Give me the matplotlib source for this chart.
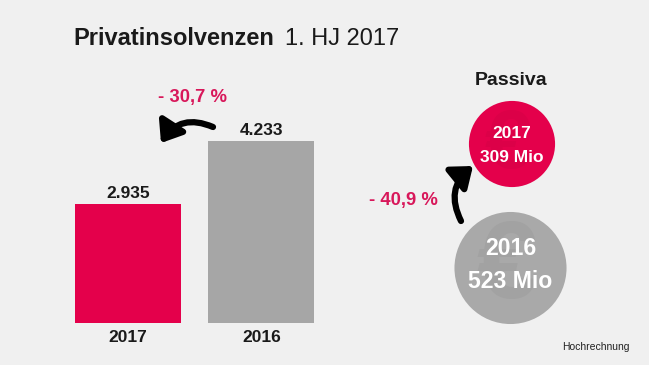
import numpy as np
import matplotlib
matplotlib.use('Agg')
import matplotlib.pyplot as plt
from matplotlib.patches import Circle, FancyArrowPatch

plt.rcParams['font.family'] = ['Liberation Sans', 'DejaVu Sans']

# ---- data ----
years = ['2017', '2016']
cases = [2935, 4233]
case_labels = ['2.935', '4.233']
change_cases = '- 30,7 %'

passiva_years = ['2017', '2016']
passiva_mio = [309, 523]
change_passiva = '- 40,9 %'

RED = '#e4004b'
RED_TXT = '#d8175a'
GREY = '#a6a6a6'
BG = '#f0f0f0'

W, H = 649, 365
fig = plt.figure(figsize=(W / 100, H / 100), dpi=100, facecolor=BG)

# ---- bar chart (left) ----
# axes from px x 40..350, y 323 (baseline) .. 100
ax = fig.add_axes([40 / W, (H - 323) / H, 310 / W, 223 / H])
ax.set_facecolor('none')
ax.bar(range(len(cases)), cases, width=0.794, color=[RED, GREY])
ax.set_xlim(-0.659, 1.663)
ax.set_ylim(480, 480 + 223 * 20.62)
for i, (v, lab) in enumerate(zip(cases, case_labels)):
    ax.annotate(lab, (i, v), xytext=(0, 4.5), textcoords='offset points',
                ha='center', va='baseline', fontsize=12.5, fontweight='bold',
                color='#1a1a1a')
ax.set_xticks(range(len(years)))
ax.set_xticklabels(years, fontsize=12.5, fontweight='bold', color='#1a1a1a')
ax.tick_params(axis='x', length=0, pad=5)
ax.set_yticks([])
for s in ax.spines.values():
    s.set_visible(False)

# ---- overlay in pixel coords ----
ov = fig.add_axes([0, 0, 1, 1])
ov.set_xlim(0, W)
ov.set_ylim(H, 0)
ov.axis('off')
ov.patch.set_visible(False)

ov.text(73, 45, 'Privatinsolvenzen', fontsize=17, fontweight='bold',
        color='#1a1a1a', va='baseline')
ov.text(285, 45, '1. HJ 2017', fontsize=17, color='#1a1a1a', va='baseline')

ov.text(192.5, 102, change_cases, fontsize=13.3, fontweight='bold',
        color=RED_TXT, ha='center', va='baseline')
ov.add_patch(FancyArrowPatch((213, 127), (161, 143),
                             connectionstyle='arc3,rad=0.42',
                             arrowstyle='-|>,head_length=0.65,head_width=0.5',
                             mutation_scale=18, lw=4.5, color='black',
                             shrinkA=0, shrinkB=0))

# ---- passiva circles (right) ----
ov.text(511, 85, 'Passiva', fontsize=14, fontweight='bold', color='#1a1a1a',
        ha='center', va='baseline')
k = 2.45
centers = [(512, 144), (510.5, 268)]
fills = [RED, '#a9a9a9']
euro_col = ['#dc0048', '#a2a2a2']
sizes = [12.5, 16.6]
offs = [(-6, 18), (-13, 20)]
for (cx, cy), val, yr, fc, ec, fs, (o1, o2) in zip(centers, passiva_mio, passiva_years,
                                                   fills, euro_col, sizes, offs):
    r = k * np.sqrt(val)
    ov.add_patch(Circle((cx, cy), r, color=fc, lw=0))
    ov.text(cx - 4, cy + 2, '€', fontsize=r * 1.4, color=ec, ha='center',
            va='center', fontweight='bold')
    ov.text(cx, cy + o1, yr, fontsize=fs, fontweight='bold', color='white',
            ha='center', va='baseline')
    ov.text(cx, cy + o2, f'{val} Mio', fontsize=fs, fontweight='bold',
            color='white', ha='center', va='baseline')

ov.text(403.5, 205, change_passiva, fontsize=13.3, fontweight='bold',
        color=RED_TXT, ha='center', va='baseline')
ov.add_patch(FancyArrowPatch((461, 221), (473, 166),
                             connectionstyle='arc3,rad=-0.4',
                             arrowstyle='-|>,head_length=0.65,head_width=0.5',
                             mutation_scale=18, lw=4.5, color='black',
                             shrinkA=0, shrinkB=0))

ov.text(630, 350, 'Hochrechnung', fontsize=7.5, color='#222222', ha='right',
        va='baseline')

fig.savefig('out.png', dpi=100, facecolor=BG)
